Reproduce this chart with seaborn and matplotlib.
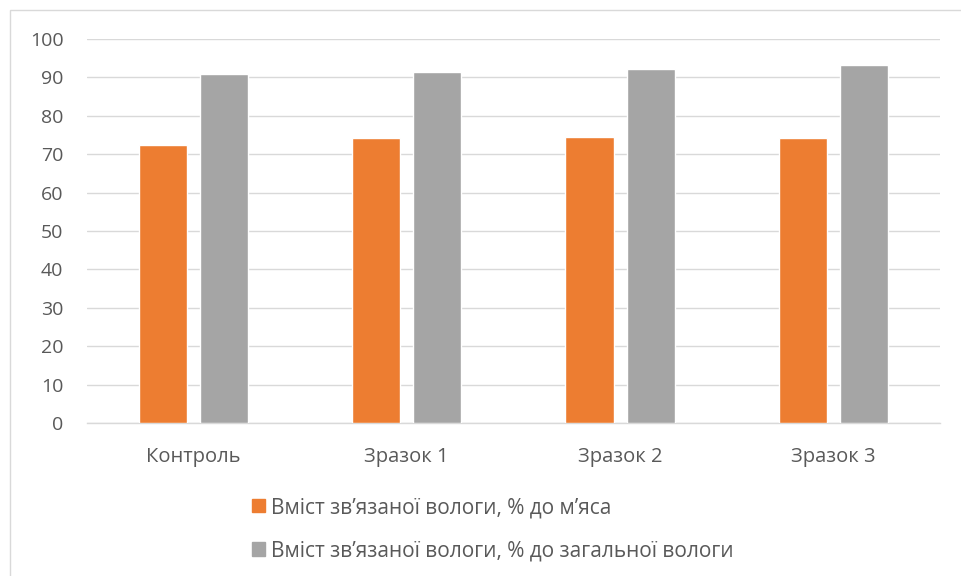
import matplotlib
matplotlib.use("Agg")
import matplotlib.pyplot as plt
import matplotlib.patches as mpatches
import seaborn as sns
import pandas as pd

categories = ["Контроль", "Зразок 1", "Зразок 2", "Зразок 3"]
series_names = ["Вміст зв’язаної вологи, % до м’яса",
                "Вміст зв’язаної вологи, % до загальної вологи"]
meat_values = [72.4, 74.2, 74.5, 74.2]
total_values = [90.9, 91.4, 92.2, 93.2]
y_ticks = [0, 10, 20, 30, 40, 50, 60, 70, 80, 90, 100]

colors = ["#ED7D31", "#A5A5A5"]
text_color = "#595959"
grid_color = "#D9D9D9"

df = pd.DataFrame({
    "category": categories * 2,
    "series": [series_names[0]] * 4 + [series_names[1]] * 4,
    "value": meat_values + total_values,
})

sns.set_theme(style="white")
plt.rcParams["font.family"] = ["Open Sans", "DejaVu Sans"]

fig = plt.figure(figsize=(9.61, 5.76), dpi=100)
ax = fig.add_axes([0.0905, 0.2656, 0.8875, 0.6667])

sns.barplot(data=df, x="category", y="value", hue="series", order=categories,
            hue_order=series_names, palette=colors, width=0.573, gap=0.213,
            saturation=1, ax=ax, legend=False, zorder=3)

ax.set_ylim(0, 100)
ax.set_xlim(-0.5, 3.5)
ax.set_yticks(y_ticks)
ax.yaxis.grid(True, color=grid_color, linewidth=1.0, zorder=0)
ax.set_axisbelow(True)
for s in ["top", "right", "left"]:
    ax.spines[s].set_visible(False)
ax.spines["bottom"].set_color(grid_color)
ax.spines["bottom"].set_linewidth(1.0)
ax.spines["bottom"].set_zorder(1)
ax.tick_params(axis="y", length=0, pad=17, labelsize=14, labelcolor=text_color)
ax.tick_params(axis="x", length=0, pad=17, labelsize=14.5, labelcolor=text_color)
ax.set_xlabel("")
ax.set_ylabel("")

# chart frame (only top and left visible in the crop)
fig.patches.append(mpatches.Rectangle((10 / 961, -0.1), 1.2, 1 - 10 / 576 + 0.1,
                                      transform=fig.transFigure, fill=False,
                                      edgecolor="#D9D9D9", linewidth=1.0))

handles = [mpatches.Patch(color=c) for c in colors]
fig.legend(handles, series_names, loc="upper left", bbox_to_anchor=(252 / 961, 1 - 497 / 576),
           frameon=False, fontsize=15, labelcolor=text_color, handlelength=0.62,
           handleheight=0.62, handletextpad=0.3, labelspacing=1.08, borderpad=0,
           borderaxespad=0)

fig.savefig("out.png", dpi=100)
plt.close(fig)
